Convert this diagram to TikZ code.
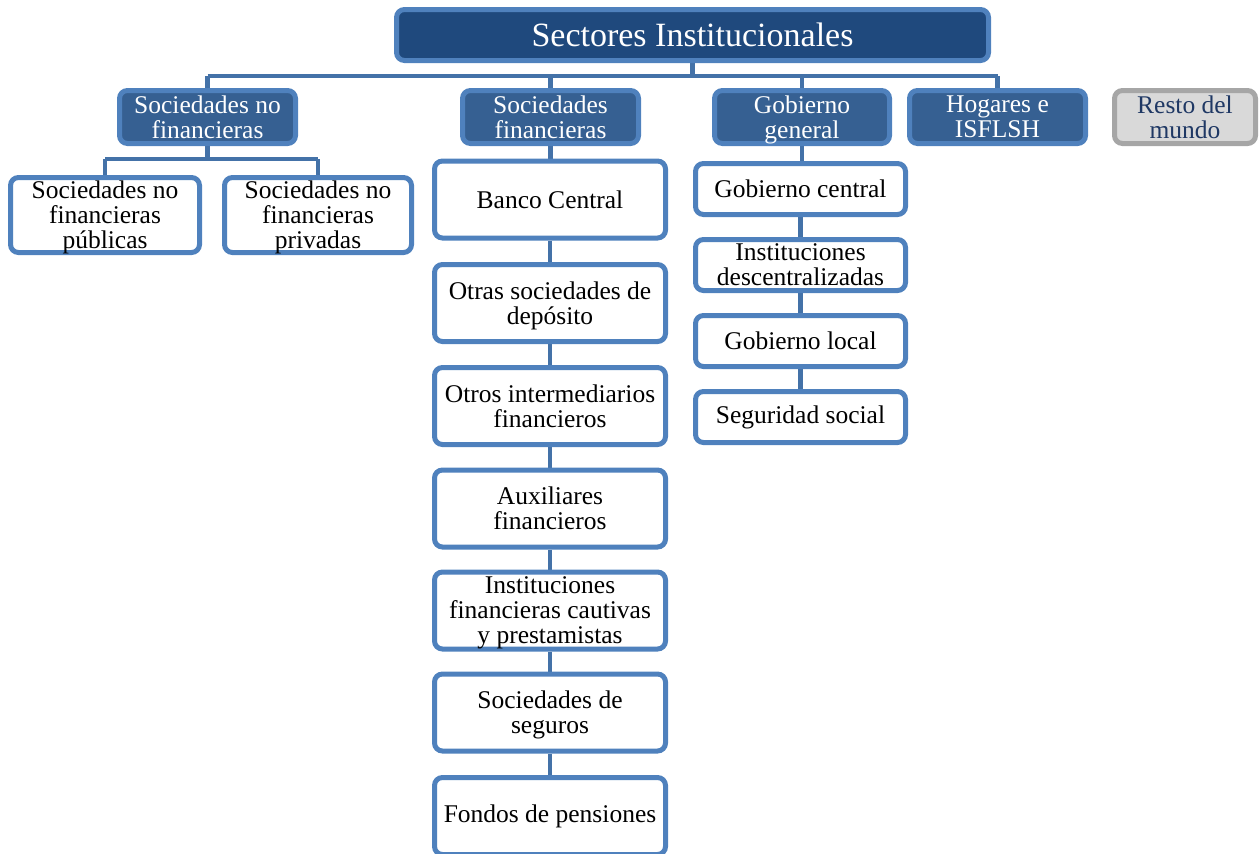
\documentclass[tikz,border=0pt]{standalone}
\usepackage{fontspec}
\setmainfont{Liberation Serif}
\usetikzlibrary{backgrounds}
\definecolor{topfill}{RGB}{31,73,125}
\definecolor{lvfill}{RGB}{54,96,146}
\definecolor{bord}{RGB}{79,129,189}
\definecolor{conncol}{RGB}{68,114,168}
\definecolor{grayfill}{RGB}{217,217,217}
\definecolor{grayb}{RGB}{166,166,166}
\definecolor{navy}{RGB}{31,56,100}
\tikzset{
  base/.style={rectangle, rounded corners=8pt, line width=5pt, inner sep=0pt, align=center,
    font=\fontsize{25.5}{25}\selectfont},
  whitebox/.style={base, draw=bord, fill=white, text=black},
  lvbox/.style={base, draw=bord, fill=lvfill, text=white},
  topbox/.style={base, draw=bord, fill=topfill, text=white, font=\fontsize{34}{36}\selectfont},
  graybox/.style={base, draw=grayb, fill=grayfill, text=navy},
  conn/.style={draw=conncol, line width=4.5pt},
  sfbox/.style={whitebox, minimum width=231pt, minimum height=77pt},
  ggbox/.style={whitebox, minimum width=210pt, minimum height=51pt},
  lvsize/.style={minimum height=53pt}
}
\begin{document}
\begin{tikzpicture}[x=1pt,y=-1pt]
\useasboundingbox (0,0) rectangle (1259,854);
% top
\node[topbox, minimum width=592pt, minimum height=51pt] (top) at (692.5,35) {Sectores Institucionales};
% level 2
\node[lvbox, lvsize, minimum width=176pt] (snf) at (207.5,117) {Sociedades no\\financieras};
\node[lvbox, lvsize, minimum width=176pt] (sf) at (550.5,117) {Sociedades\\financieras};
\node[lvbox, lvsize, minimum width=175pt] (gg) at (802,117) {Gobierno\\\smash{general}};
\node[lvbox, lvsize, minimum width=176pt] (hog) at (997.5,117) {Hogares e\\ISFLSH};
\node[graybox, lvsize, minimum width=141pt] (resto) at (1185,117) {Resto del\\mundo};
% SNF children
\node[whitebox, minimum width=189pt, minimum height=75pt] (pub) at (105,215) {Sociedades no\\financieras\\\smash{públicas}};
\node[whitebox, minimum width=187pt, minimum height=75pt] (priv) at (318,215) {Sociedades no\\financieras\\\smash{privadas}};
% SF column
\node[sfbox] (bc) at (550,199.5) {Banco Central};
\node[sfbox] (osd) at (550,303) {Otras sociedades de\\\smash{depósito}};
\node[sfbox] (oif) at (550,406) {Otros intermediarios\\financieros};
\node[sfbox] (aux) at (550,508.5) {Auxiliares\\financieros};
\node[sfbox] (ifc) at (550,610.5) {Instituciones\\financieras cautivas\\\smash{y prestamistas}};
\node[sfbox] (seg) at (550,712.5) {Sociedades de\\\smash{seguros}};
\node[sfbox] (fp) at (550,816) {Fondos de pensiones};
% GG column
\node[ggbox] (gc) at (800.5,189) {Gobierno central};
\node[ggbox] (id) at (800.5,265) {Instituciones\\descentralizadas};
\node[ggbox] (gl) at (800.5,341) {Gobierno local};
\node[ggbox] (ss) at (800.5,417) {Seguridad social};
% connectors
\coordinate (bus) at (0,76);
\coordinate (snfbus) at (0,159);
\begin{scope}[on background layer]
\draw[conn] (top.south) -- (top.south |- bus);
\draw[conn] (snf |- bus) -- (hog |- bus);
\draw[conn] (snf |- bus) -- (snf.north);
\draw[conn] (sf |- bus) -- (sf.north);
\draw[conn] (gg |- bus) -- (gg.north);
\draw[conn] (hog |- bus) -- (hog.north);
\draw[conn] (snf.south) -- (snf |- snfbus);
\draw[conn] (pub |- snfbus) -- (priv |- snfbus);
\draw[conn] (pub |- snfbus) -- (pub.north);
\draw[conn] (priv |- snfbus) -- (priv.north);
\draw[conn] (sf.south) -- (sf.south |- bc.north);
\draw[conn] (bc) -- (osd);
\draw[conn] (osd) -- (oif);
\draw[conn] (oif) -- (aux);
\draw[conn] (aux) -- (ifc);
\draw[conn] (ifc) -- (seg);
\draw[conn] (seg) -- (fp);
\draw[conn] (gg.south) -- (gg.south |- gc.north);
\draw[conn] (gc) -- (id);
\draw[conn] (id) -- (gl);
\draw[conn] (gl) -- (ss);
\end{scope}
\end{tikzpicture}
\end{document}
